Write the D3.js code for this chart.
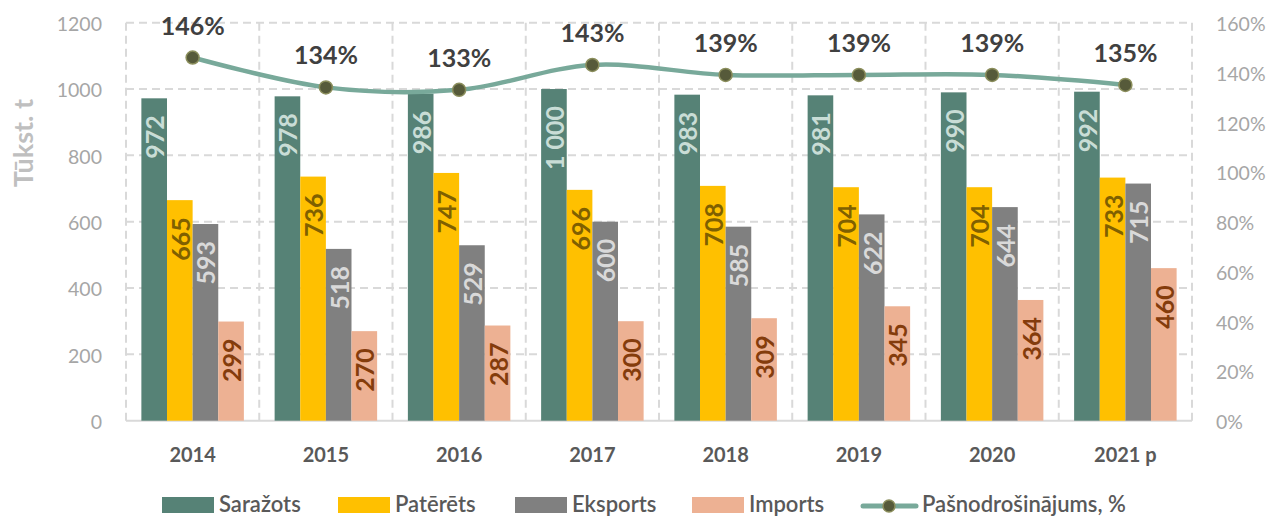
<!DOCTYPE html>
<html>
<head>
<meta charset="utf-8">
<script src="https://cdn.jsdelivr.net/npm/d3@7"></script>
<style>
  body { margin: 0; background: #fff; }
  svg { display: block; font-family: Lato, "Open Sans", sans-serif; }
</style>
</head>
<body>
<div id="chart"></div>
<script>
// data
const years = ["2014", "2015", "2016", "2017", "2018", "2019", "2020", "2021 p"];
const sarazots = [972, 978, 986, 1000, 983, 981, 990, 992];
const pateretis = [665, 736, 747, 696, 708, 704, 704, 733];
const eksports = [593, 518, 529, 600, 585, 622, 644, 715];
const imports = [299, 270, 287, 300, 309, 345, 364, 460];
const pasnodrosinajums = [146, 134, 133, 143, 139, 139, 139, 135];
const leftTicks = [0, 200, 400, 600, 800, 1000, 1200];
const rightTicks = [0, 20, 40, 60, 80, 100, 120, 140, 160];

const seriesNames = ["Saražots", "Patērēts", "Eksports", "Imports"];
const seriesValues = [sarazots, pateretis, eksports, imports];
const lineName = "Pašnodrošinājums, %";

const barColors = ["#568276", "#ffc000", "#808080", "#edb193"];
const labelColors = ["#c9ddd6", "#7f6000", "#d9d9d9", "#843c0c"];

const W = 1273, H = 517;
const plot = {left: 126, right: 1192, top: 22.7, bottom: 420.7};

const rows = years.map((y, i) => ({
    year: y,
    bars: seriesNames.map((s, k) => ({series: s, k, value: seriesValues[k][i]})),
    pct: pasnodrosinajums[i]
}));

const svg = d3.select("#chart").append("svg")
    .attr("width", W)
    .attr("height", H);

const x0 = d3.scaleBand()
    .domain(years)
    .range([plot.left, plot.right])
    .padding(0);

const x1 = d3.scaleBand()
    .domain(seriesNames)
    .range([0, x0.bandwidth()])
    .paddingInner(0)
    .paddingOuter(0.6);

const y = d3.scaleLinear().domain([0, 1200]).range([plot.bottom, plot.top]);
const y2 = d3.scaleLinear().domain([0, 160]).range([plot.bottom, plot.top]);

// grid
const grid = svg.append("g").attr("class", "grid")
    .attr("stroke", "#d9d9d9")
    .attr("stroke-width", 2)
    .attr("stroke-dasharray", "8,5");

grid.selectAll("line.h")
    .data(leftTicks.filter(d => d > 0))
    .enter().append("line")
    .attr("x1", plot.left).attr("x2", plot.right)
    .attr("y1", d => y(d)).attr("y2", d => y(d));

grid.selectAll("line.v")
    .data(years.map(d => x0(d)).concat([plot.right]))
    .enter().append("line")
    .attr("x1", d => d).attr("x2", d => d)
    .attr("y1", plot.top).attr("y2", plot.bottom);

svg.append("line")
    .attr("x1", plot.left).attr("x2", plot.right)
    .attr("y1", plot.bottom).attr("y2", plot.bottom)
    .attr("stroke", "#d9d9d9").attr("stroke-width", 2);

// axes
const yAxis = svg.append("g")
    .attr("transform", `translate(${plot.left - 24},0)`)
    .call(d3.axisLeft(y).tickValues(leftTicks).tickSize(0).tickPadding(0)
        .tickFormat(d => String(d)));
yAxis.select(".domain").remove();
yAxis.selectAll("text")
    .attr("fill", "#a6a6a6")
    .attr("font-size", 19.5)
    .attr("font-family", "Lato, sans-serif")
    .attr("dy", "0.4em");

const y2Axis = svg.append("g")
    .attr("transform", `translate(${plot.right + 24},0)`)
    .call(d3.axisRight(y2).tickValues(rightTicks).tickSize(0).tickPadding(0)
        .tickFormat(d => d + "%"));
y2Axis.select(".domain").remove();
y2Axis.selectAll("text")
    .attr("fill", "#a6a6a6")
    .attr("font-size", 19.5)
    .attr("font-family", "Lato, sans-serif")
    .attr("dy", "0.4em");

const xAxis = svg.append("g")
    .attr("transform", `translate(0,${plot.bottom})`)
    .call(d3.axisBottom(x0).tickSize(0).tickPadding(27));
xAxis.select(".domain").remove();
xAxis.selectAll("text")
    .attr("fill", "#595959")
    .attr("font-size", 20)
    .attr("font-weight", "bold")
    .attr("font-family", "Lato, sans-serif");

svg.append("text")
    .attr("transform", "translate(33,143) rotate(-90)")
    .attr("text-anchor", "middle")
    .attr("fill", "#bfbfbf")
    .attr("font-size", 27)
    .attr("font-weight", "bold")
    .text("Tūkst. t");

// bars
const groups = svg.selectAll("g.year")
    .data(rows)
    .enter().append("g")
    .attr("class", "year")
    .attr("transform", d => `translate(${x0(d.year)},0)`);

groups.selectAll("rect")
    .data(d => d.bars)
    .enter().append("rect")
    .attr("x", d => x1(d.series))
    .attr("y", d => y(d.value))
    .attr("width", x1.bandwidth())
    .attr("height", d => plot.bottom - y(d.value))
    .attr("fill", d => barColors[d.k]);

const fmt = v => v >= 1000 ? d3.format(",")(v).replace(",", " ") : String(v);

groups.selectAll("text.val")
    .data(d => d.bars)
    .enter().append("text")
    .attr("class", "val")
    .attr("transform", d => `translate(${x1(d.series) + x1.bandwidth() / 2 + 1},${y(d.value) + 17}) rotate(-90)`)
    .attr("text-anchor", "end")
    .attr("dy", "0.36em")
    .attr("font-size", 25)
    .attr("font-weight", "bold")
    .attr("fill", d => labelColors[d.k])
    .text(d => fmt(d.value));

// line
const cx = d => x0(d.year) + x0.bandwidth() / 2;
const line = d3.line()
    .x(cx)
    .y(d => y2(d.pct))
    .curve(d3.curveCardinal.tension(0));

svg.append("path")
    .datum(rows)
    .attr("d", line)
    .attr("fill", "none")
    .attr("stroke", "#78a99a")
    .attr("stroke-width", 4.5)
    .attr("stroke-linecap", "round");

svg.selectAll("circle.pt")
    .data(rows)
    .enter().append("circle")
    .attr("class", "pt")
    .attr("cx", cx)
    .attr("cy", d => y2(d.pct))
    .attr("r", 6.5)
    .attr("fill", "#565a3a")
    .attr("stroke", "#8b8e5c")
    .attr("stroke-width", 1.5);

svg.selectAll("text.pct")
    .data(rows)
    .enter().append("text")
    .attr("class", "pct")
    .attr("x", cx)
    .attr("y", d => y2(d.pct) - 23)
    .attr("text-anchor", "middle")
    .attr("font-size", 25)
    .attr("font-weight", "bold")
    .attr("fill", "#404040")
    .text(d => d.pct + "%");

// legend
const legendX = [162, 338, 515, 692, 861];
const legend = svg.append("g").attr("class", "legend");
const items = seriesNames.map((s, k) => ({name: s, k, type: "bar"}))
    .concat([{name: lineName, k: 4, type: "line"}]);

const li = legend.selectAll("g")
    .data(items)
    .enter().append("g")
    .attr("transform", d => `translate(${legendX[d.k]},0)`);

li.filter(d => d.type === "bar").append("rect")
    .attr("x", 0).attr("y", 497)
    .attr("width", 52).attr("height", 16)
    .attr("fill", d => barColors[d.k]);

const ll = li.filter(d => d.type === "line");
ll.append("line")
    .attr("x1", 2).attr("x2", 55)
    .attr("y1", 506).attr("y2", 506)
    .attr("stroke", "#78a99a")
    .attr("stroke-width", 5)
    .attr("stroke-linecap", "round");
ll.append("circle")
    .attr("cx", 28).attr("cy", 506).attr("r", 6)
    .attr("fill", "#565a3a")
    .attr("stroke", "#8b8e5c")
    .attr("stroke-width", 1.5);

li.append("text")
    .attr("x", d => d.type === "bar" ? 57 : 61)
    .attr("y", 512)
    .attr("font-size", 22)
    .attr("font-weight", 600)
    .attr("fill", "#595959")
    .text(d => d.name);
</script>
</body>
</html>
